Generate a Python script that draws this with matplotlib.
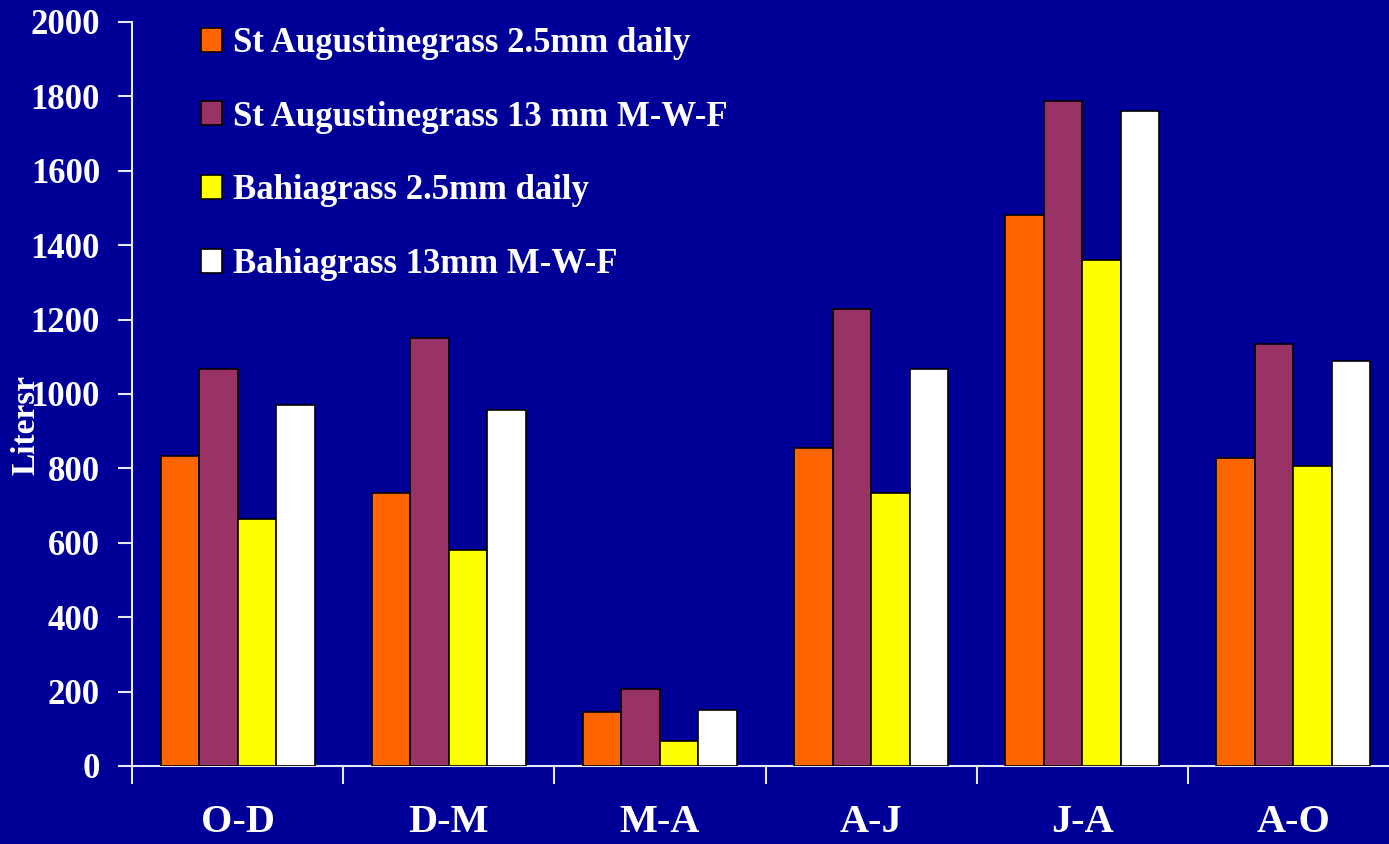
import numpy as np
import matplotlib
matplotlib.use('Agg')
import matplotlib.pyplot as plt
from matplotlib.patches import Patch

periods = ['O-D', 'D-M', 'M-A', 'A-J', 'J-A', 'A-O']
series_names = ['St Augustinegrass 2.5mm daily',
                'St Augustinegrass 13 mm M-W-F',
                'Bahiagrass 2.5mm daily',
                'Bahiagrass 13mm M-W-F']
st_aug_daily = [833, 734, 144, 856, 1481, 828]
st_aug_mwf = [1067, 1150, 207, 1229, 1788, 1134]
bahia_daily = [664, 581, 67, 735, 1360, 806]
bahia_mwf = [970, 957, 150, 1068, 1761, 1090]
colors = ['#FF6600', '#993366', '#FFFF00', '#FFFFFF']

bg = '#000099'
axis_col = '#E6E6FF'

plt.rcParams['font.family'] = ['Liberation Serif', 'DejaVu Serif']
plt.rcParams['font.weight'] = 'bold'

fig = plt.figure(figsize=(13.89, 8.44), dpi=100, facecolor=bg)
ax = fig.add_axes([132 / 1389, 78 / 844, 1267 / 1389, 744 / 844])
ax.set_facecolor(bg)

x = np.arange(len(periods))
w = 0.1825
all_series = [st_aug_daily, st_aug_mwf, bahia_daily, bahia_mwf]
for i, vals in enumerate(all_series):
    ax.bar(x + (i - 1.5) * w, vals, width=w, color=colors[i],
           edgecolor='black', linewidth=1.2, zorder=3)

ax.set_xlim(-0.5, 5.5)
ax.set_ylim(0, 2000)
ax.set_yticks(np.arange(0, 2001, 200))
ax.set_xticks(x)
ax.set_xticklabels(periods)
ax.set_xticks(np.arange(-0.5, 6, 1), minor=True)

ax.tick_params(axis='y', colors=axis_col, labelcolor='white', labelsize=25,
               length=10, width=1.5, pad=13)
ax.tick_params(axis='x', which='major', length=0, labelcolor='white',
               labelsize=29, pad=27)
ax.tick_params(axis='x', which='minor', colors=axis_col, length=13, width=1.5)
for lbl in ax.get_xticklabels() + ax.get_yticklabels():
    lbl.set_fontweight('bold')

for s in ['top', 'right']:
    ax.spines[s].set_visible(False)
for s in ['left', 'bottom']:
    ax.spines[s].set_color(axis_col)
    ax.spines[s].set_linewidth(1.5)

fig.text(26 / 1389, 1 - 425 / 844, 'Litersr', rotation=90, color='white',
         fontsize=24, fontweight='bold', ha='center', va='center')

handles = [Patch(facecolor=c, edgecolor='black', linewidth=1.2) for c in colors]
leg = ax.legend(handles, series_names, loc='upper left',
                bbox_to_anchor=(55 / 1267, 1.012), frameon=False,
                fontsize=25, labelspacing=1.17, handlelength=0.62,
                handleheight=0.68, handletextpad=0.3, borderaxespad=0)
for t in leg.get_texts():
    t.set_color('white')
    t.set_fontweight('bold')

fig.savefig('out.png', dpi=100, facecolor=bg)
